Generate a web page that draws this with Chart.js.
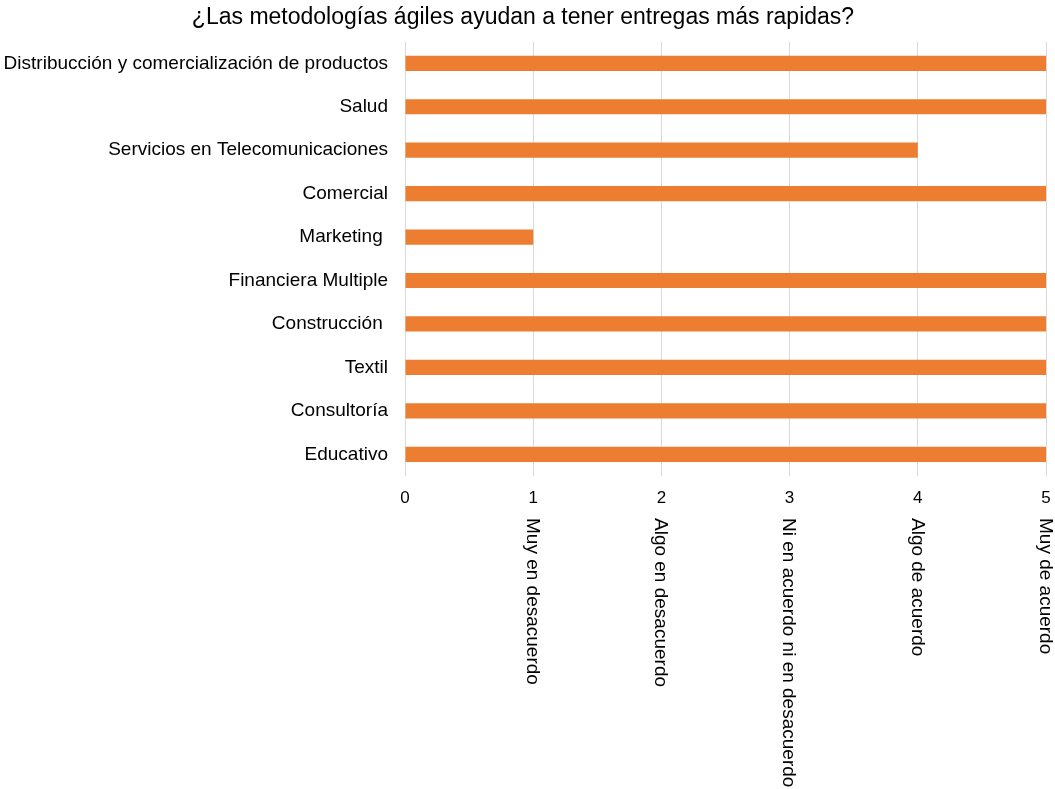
<!DOCTYPE html>
<html>
<head>
<meta charset="utf-8">
<script src="https://cdn.jsdelivr.net/npm/chart.js@4/dist/chart.umd.min.js"></script>
<style>
  html, body { margin: 0; padding: 0; background: #fff; }
  #wrap { width: 1055px; height: 789px; }
</style>
</head>
<body>
<div id="wrap"><canvas id="agilChart"></canvas></div>
<script>
const sectores = [
    'Distribucción y comercialización de productos',
    'Salud',
    'Servicios en Telecomunicaciones',
    'Comercial',
    'Marketing ',
    'Financiera Multiple',
    'Construcción ',
    'Textil',
    'Consultoría',
    'Educativo'
];
const respuestas = [5, 5, 4, 5, 1, 5, 5, 5, 5, 5];
const escala = ['0', '1', '2', '3', '4', '5'];
const escalaTexto = ['', 'Muy en desacuerdo', 'Algo en desacuerdo', 'Ni en acuerdo ni en desacuerdo', 'Algo de acuerdo', 'Muy de acuerdo'];

const fuente = '"Liberation Sans", Arial, sans-serif';

// second row of x labels, written top to bottom under each number
const textoVertical = {
    id: 'textoVertical',
    afterDraw(chart) {
        const ctx = chart.ctx;
        const x = chart.scales.x;
        ctx.save();
        ctx.font = '19px ' + fuente;
        ctx.fillStyle = '#000';
        ctx.textAlign = 'left';
        ctx.textBaseline = 'middle';
        escalaTexto.forEach((t, i) => {
            if (!t) return;
            ctx.save();
            ctx.translate(x.getPixelForValue(i) - 1, 518);
            ctx.rotate(Math.PI / 2);
            ctx.fillText(t, 0, 0);
            ctx.restore();
        });
        ctx.restore();
    }
};

document.addEventListener('DOMContentLoaded', () => {
    const ctx = document.getElementById('agilChart').getContext('2d');
    new Chart(ctx, {
        type: 'bar',
        data: {
            labels: sectores,
            datasets: [{
                data: respuestas,
                backgroundColor: '#ED7D31',
                borderWidth: 0,
                categoryPercentage: 1,
                barPercentage: 0.35
            }]
        },
        options: {
            indexAxis: 'y',
            responsive: true,
            maintainAspectRatio: false,
            animation: false,
            layout: { padding: { top: 0, right: 9, bottom: 0, left: 0 } },
            scales: {
                x: {
                    min: 0,
                    max: 5,
                    afterFit(scale) {
                        scale.height = 313;
                        scale.paddingRight = 0;
                    },
                    ticks: {
                        stepSize: 1,
                        padding: 12,
                        color: '#000',
                        font: { family: fuente, size: 17 },
                        callback: (v) => escala[v]
                    },
                    grid: { color: '#d9d9d9', lineWidth: 1, drawTicks: false },
                    border: { display: false }
                },
                y: {
                    afterFit(scale) { scale.width = 405; },
                    ticks: {
                        padding: 9,
                        color: '#000',
                        font: { family: fuente, size: 19 }
                    },
                    grid: { display: false },
                    border: { display: false }
                }
            },
            plugins: {
                legend: { display: false },
                tooltip: { enabled: false },
                title: {
                    display: true,
                    text: '¿Las metodologías ágiles ayudan a tener entregas más rapidas?',
                    color: '#000',
                    font: { family: fuente, size: 23, weight: 'normal' },
                    padding: { top: 4, bottom: 10 }
                }
            }
        },
        plugins: [textoVertical]
    });
});
</script>
</body>
</html>
